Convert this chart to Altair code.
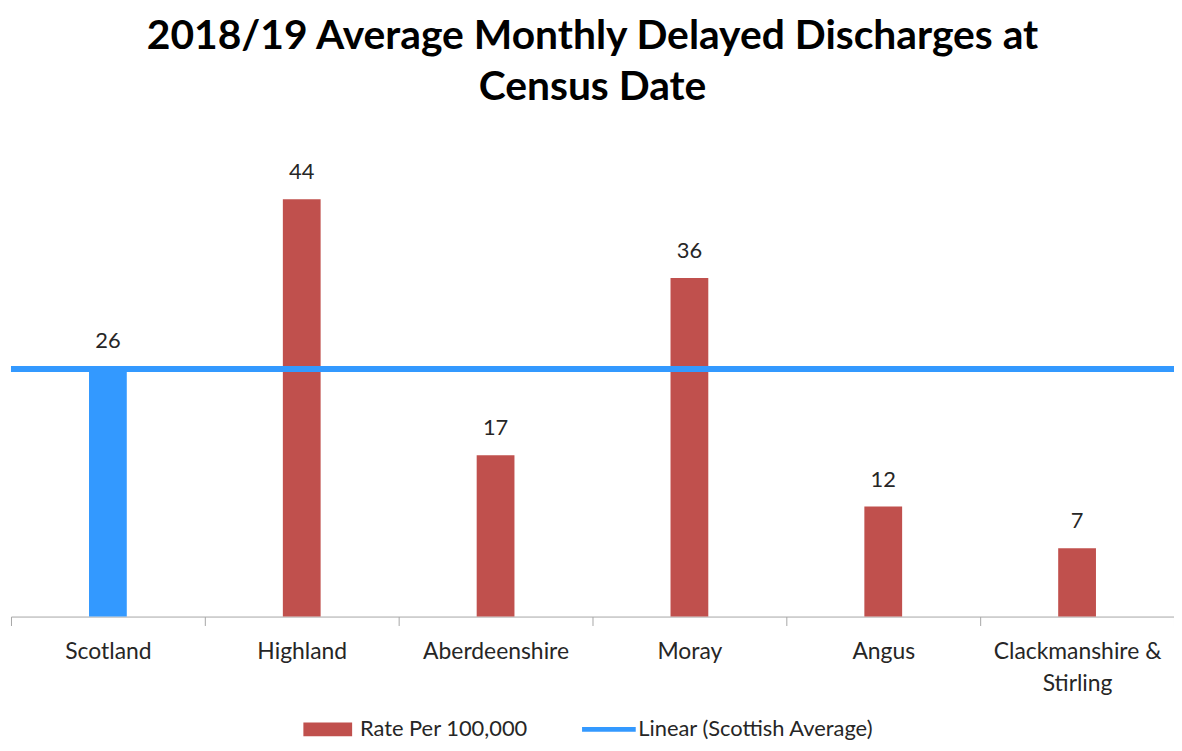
import altair as alt
import pandas as pd

regions = ["Scotland", "Highland", "Aberdeenshire", "Moray", "Angus", "Clackmanshire & Stirling"]
rates = [26.2, 44.0, 17.0, 35.7, 11.6, 7.2]
bar_series = ["Rate Per 100,000"] * 6
avg_series = ["Linear (Scottish Average)"]
avg_values = [26.1]

bars_df = pd.DataFrame({"region": regions, "rate": rates, "series": bar_series})
avg_df = pd.DataFrame({"avg": avg_values, "line": avg_series})

FONT = "Lato"
RED = "#C0504D"
BLUE = "#3399FF"
TXT = "#262626"

x = alt.X(
    "region:N",
    sort=regions,
    title=None,
    scale=alt.Scale(paddingInner=0, paddingOuter=0),
    axis=alt.Axis(
        labelAngle=0,
        tickBand="extent",
        tickSize=9,
        tickColor="#A6A6A6",
        domainColor="#A6A6A6",
        labelFont=FONT,
        labelFontSize=23,
        labelColor=TXT,
        labelPadding=15,
        labelLineHeight=32,
        labelLimit=0,
        labelExpr="datum.label == 'Clackmanshire & Stirling' ? ['Clackmanshire &', 'Stirling'] : datum.label",
    ),
)
y = alt.Y("rate:Q", axis=None, scale=alt.Scale(domain=[0, 50]))

bars = alt.Chart(bars_df).mark_bar(size=38).encode(
    x=x,
    y=y,
    fill=alt.condition(
        alt.datum.region == "Scotland",
        alt.value(BLUE),
        alt.Fill(
            "series:N",
            scale=alt.Scale(domain=["Rate Per 100,000"], range=[RED]),
            legend=alt.Legend(
                title=None,
                orient="none",
                legendX=294,
                legendY=574,
                symbolType="M-1,-0.43H2V0.43H-1Z",
                symbolSize=1069,
                symbolStrokeWidth=0,
                labelOffset=24,
                labelFont=FONT,
                labelFontSize=22,
                labelColor=TXT,
                labelLimit=0,
            ),
        ),
    ),
)

labels = alt.Chart(bars_df).mark_text(
    baseline="middle", dy=-27, font=FONT, fontSize=22, color=TXT
).encode(x=x, y=y, text=alt.Text("rate:Q", format=".0f"))

line = alt.Chart(avg_df).mark_rule(strokeWidth=6).encode(
    y=alt.Y("avg:Q", scale=alt.Scale(domain=[0, 50])),
    stroke=alt.Stroke(
        "line:N",
        scale=alt.Scale(domain=avg_series, range=[BLUE]),
        legend=alt.Legend(
            title=None,
            orient="none",
            legendX=572,
            legendY=561,
            symbolSize=2916,
            symbolStrokeWidth=5,
            labelOffset=0,
            labelFont=FONT,
            labelFontSize=22,
            labelColor=TXT,
            labelLimit=0,
        ),
    ),
)

chart = (
    alt.layer(bars, labels, line)
    .resolve_scale(y="shared")
    .properties(
        width=1170,
        height=477,
        autosize=alt.AutoSizeParams(type="none"),
        padding={"left": 3, "top": 133, "right": 0, "bottom": 125},
        title=alt.TitleParams(
            ["2018/19 Average Monthly Delayed Discharges at", "Census Date"],
            font=FONT,
            fontSize=41,
            fontWeight="bold",
            lineHeight=51,
            color="#000000",
            anchor="middle",
            offset=34,
        ),
    )
    .configure_view(stroke=None)
)

chart.save("out.html", embed_options={"renderer": "svg", "actions": False})
